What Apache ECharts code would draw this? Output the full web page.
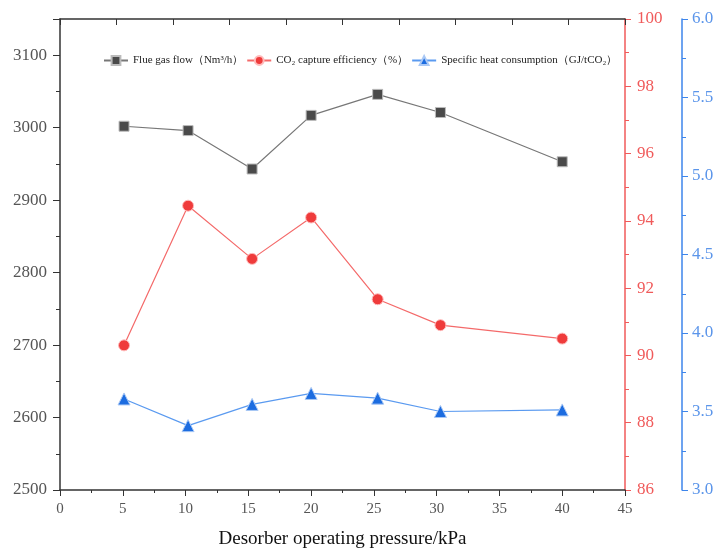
<!DOCTYPE html>
<html>
<head>
<meta charset="utf-8">
<script src="https://cdn.jsdelivr.net/npm/echarts@6/dist/echarts.min.js"></script>
<style>
  html, body { margin: 0; padding: 0; background: #fff; }
  #chart { width: 721px; height: 554px; }
</style>
</head>
<body>
<div id="chart"></div>
<script>
// pressure (kPa) of each run
var pressures = [5.1, 10.2, 15.3, 20.0, 25.3, 30.3, 40.0];
// flue gas flow, Nm3/h
var flueGas = [3002, 2996, 2943, 3017, 3046, 3021, 2953];
// CO2 capture efficiency, %
var captureEff = [90.3, 94.45, 92.87, 94.1, 91.67, 90.9, 90.5];
// specific heat consumption, GJ/tCO2
var heatCons = [3.58, 3.41, 3.545, 3.615, 3.585, 3.50, 3.51];

var names = ['Flue gas flow（Nm³/h）', 'CO₂ capture efficiency（%）', 'Specific heat consumption（GJ/tCO₂）'];

function pairs(xs, ys) {
	var out = [];
	for (var i = 0; i < xs.length; i++) out.push([xs[i], ys[i]]);
	return out;
}

var serif = 'Liberation Serif, Times New Roman, serif';
var chart = echarts.init(document.getElementById('chart'));

var option = {
	backgroundColor: '#fff',
	animation: false,
	grid: { left: 60, right: 96, top: 19, bottom: 60 },
	legend: {
		data: names,
		left: 98,
		top: 50,
		itemWidth: 24,
		itemHeight: 11,
		itemGap: 3,
		textStyle: { fontFamily: serif, fontSize: 11, color: '#222' }
	},
	xAxis: [
		{
			type: 'value',
			min: 0, max: 45, interval: 5,
			name: 'Desorber operating pressure/kPa',
			nameLocation: 'middle',
			nameGap: 40,
			nameTextStyle: { fontFamily: serif, fontSize: 19, color: '#111' },
			axisLine: { show: true, onZero: false, lineStyle: { color: '#333', width: 1.5 } },
			axisTick: { show: true, inside: false, length: 6, lineStyle: { color: '#333' } },
			minorTick: { show: true, splitNumber: 2, length: 3, lineStyle: { color: '#333' } },
			axisLabel: { fontFamily: serif, fontSize: 15, color: '#555', margin: 12 },
			splitLine: { show: false }
		},
		{
			type: 'value',
			position: 'top',
			min: 0, max: 45, interval: 4.5,
			axisLine: { show: true, onZero: false, lineStyle: { color: '#333', width: 1.5 } },
			axisTick: { show: true, inside: true, length: 6, lineStyle: { color: '#333' } },
			axisLabel: { show: false },
			splitLine: { show: false }
		}
	],
	yAxis: [
		{
			type: 'value',
			position: 'left',
			min: 2500, max: 3150, interval: 100,
			axisLine: { show: true, onZero: false, lineStyle: { color: '#333', width: 1.5 } },
			axisTick: { show: true, length: 7, lineStyle: { color: '#333' } },
			minorTick: { show: true, splitNumber: 2, length: 4, lineStyle: { color: '#333' } },
			axisLabel: { fontFamily: serif, fontSize: 17, color: '#555', margin: 13, showMaxLabel: false,
				formatter: function (v) { return String(v); } },
			splitLine: { show: false }
		},
		{
			type: 'value',
			position: 'right',
			min: 86, max: 100, interval: 2,
			axisLine: { show: true, onZero: false, lineStyle: { color: '#f05a5a', width: 1.5 } },
			axisTick: { show: true, length: 6, lineStyle: { color: '#f05a5a' } },
			minorTick: { show: true, splitNumber: 2, length: 4, lineStyle: { color: '#f05a5a' } },
			axisLabel: { fontFamily: serif, fontSize: 17, color: '#f05a5a', margin: 12 },
			splitLine: { show: false }
		},
		{
			type: 'value',
			position: 'right',
			offset: 57,
			min: 3, max: 6, interval: 0.5,
			axisLine: { show: true, onZero: false, lineStyle: { color: '#3d85eb', width: 1.5 } },
			axisTick: { show: true, length: 6, lineStyle: { color: '#3d85eb' } },
			minorTick: { show: true, splitNumber: 2, length: 4, lineStyle: { color: '#3d85eb' } },
			axisLabel: { fontFamily: serif, fontSize: 17, color: '#5b95ea', margin: 10,
				formatter: function (v) { return v.toFixed(1); } },
			splitLine: { show: false }
		}
	],
	series: [
		{
			name: names[0],
			type: 'line',
			xAxisIndex: 0, yAxisIndex: 0,
			data: pairs(pressures, flueGas),
			symbol: 'rect',
			symbolSize: 10,
			itemStyle: { color: '#4a4a4a', borderColor: '#bbb', borderWidth: 1 },
			lineStyle: { color: '#777', width: 1.2 }
		},
		{
			name: names[1],
			type: 'line',
			xAxisIndex: 0, yAxisIndex: 1,
			data: pairs(pressures, captureEff),
			symbol: 'circle',
			symbolSize: 11,
			itemStyle: { color: '#ef3b3b', borderColor: '#fbb', borderWidth: 1 },
			lineStyle: { color: '#f46a6a', width: 1.2 }
		},
		{
			name: names[2],
			type: 'line',
			xAxisIndex: 0, yAxisIndex: 2,
			data: pairs(pressures, heatCons),
			symbol: 'triangle',
			symbolSize: 12,
			itemStyle: { color: '#1c6ce0', borderColor: '#a9c8f5', borderWidth: 1 },
			lineStyle: { color: '#5a9af0', width: 1.2 }
		}
	]
};

chart.setOption(option);
</script>
</body>
</html>
